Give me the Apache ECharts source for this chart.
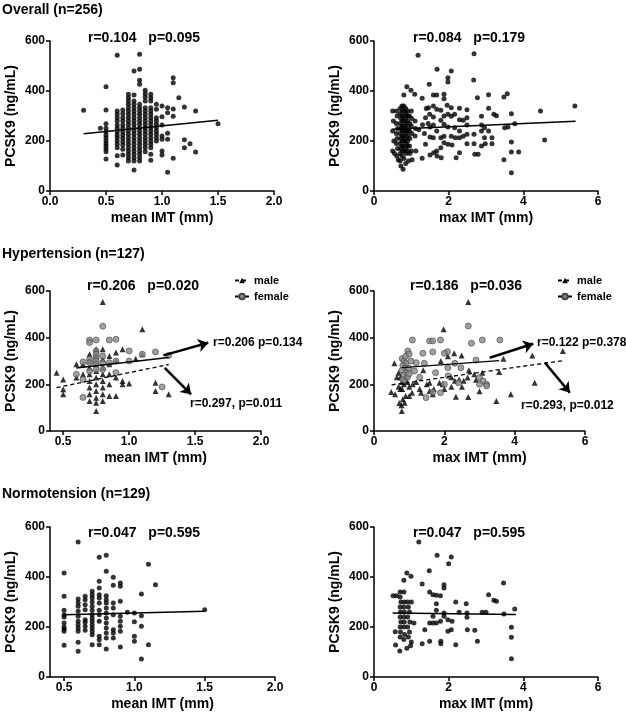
<!DOCTYPE html>
<html><head><meta charset="utf-8">
<script src="https://cdn.jsdelivr.net/npm/echarts@6/dist/echarts.min.js"></script>
<style>html,body{margin:0;padding:0;background:#fff}#c{width:626px;height:721px}</style>
</head><body><div id="c"></div><script>
// ---------- data ----------
// mean IMT (mm) columns : [x, [PCSK9 values]]
const overallMeanCols = [
 [0.30,[323]],
 [0.45,[251]],
 [0.50,[417,324,269,251,237,224,213,200,189,179,168,157,128]],
 [0.60,[543,320,307,293,280,264,251,237,224,213,200,187,173,141,104]],
 [0.65,[324,309,293,280,264,251,237,224,211,197,184,167,144]],
 [0.70,[387,373,360,347,333,320,307,293,280,267,253,240,227,213,200,187,173,160,147,133,120]],
 [0.75,[480,384,360,347,333,320,307,293,280,267,253,240,227,213,200,187,173,160,147,133,120,84]],
 [0.80,[547,487,443,427,347,333,320,307,293,280,267,253,240,227,213,200,187,173,160,147,133,120]],
 [0.85,[403,389,376,360,333,320,307,293,280,267,253,240,227,213,200,187,173,157]],
 [0.90,[387,373,360,333,320,307,293,280,267,253,240,227,213,200,187,173,147,123]],
 [0.95,[347,327,293,280,267,253,240,227,213,200]],
 [1.00,[340,297,264,220,207,160,144]],
 [1.05,[333,313,231,207,75]],
 [1.10,[453,433,328,299,131]],
 [1.15,[373]],
 [1.20,[336,205,173]],
 [1.25,[189]],
 [1.30,[320,156]],
 [1.50,[269]]
];
const htMeanFemaleCols = [
 [0.60,[243]],
 [0.65,[296,221,144]],
 [0.70,[390,379,307,293,257]],
 [0.75,[390,343,329,314,300,286,264]],
 [0.80,[449,321,293,264]],
 [0.85,[390,293]],
 [0.90,[393,300,250]],
 [1.00,[343,300]],
 [1.10,[329]],
 [1.20,[339]],
 [1.25,[189]],
 [1.30,[324]]
];
const htMeanMaleCols = [
 [0.45,[250]],
 [0.50,[221,179,157]],
 [0.60,[286,229]],
 [0.65,[286,243]],
 [0.70,[329,300,271,243,214,186,157,129]],
 [0.75,[350,321,286,257,229,200,171,143,121,86]],
 [0.80,[553,350,307,271,243,214,186,157,129]],
 [0.85,[321,286,243,200,150]],
 [0.90,[336,300,229,150]],
 [0.95,[350,214,200]],
 [1.00,[204]],
 [1.05,[310]],
 [1.10,[436,329]],
 [1.20,[207,171]],
 [1.30,[157]]
];
const normoMeanCols = [
 [0.50,[416,323,267,249,240,216,200,192,183,127]],
 [0.60,[540,312,297,283,263,243,223,209,196,183,139,103]],
 [0.65,[323,309,289,269,229,219,203,187]],
 [0.70,[343,329,316,300,283,267,249,236,223,209,196,183,169,129]],
 [0.75,[479,383,356,329,316,296,267,249,223,163,149,129]],
 [0.80,[487,423,325,309,296,276,256,236,216,196,176,156,112]],
 [0.85,[399,367,296,276,249,189,176,156]],
 [0.90,[376,363,303,243,223,203,183,120]],
 [0.95,[259]],
 [1.00,[256,221,163,143]],
 [1.05,[332,245,203,72]],
 [1.10,[451,129]],
 [1.15,[369]],
 [1.50,[269]]
];
// max IMT (mm) points : [x, PCSK9]
const overallMaxPts = [
 [0.50,320],[0.52,280],[0.50,240],[0.53,200],[0.50,160],[0.55,150],
 [0.60,320],[0.62,300],[0.60,270],[0.63,250],[0.60,230],[0.62,210],[0.60,190],[0.63,170],[0.61,140],[0.65,125],
 [0.70,330],[0.70,310],[0.72,290],[0.70,270],[0.71,250],[0.70,230],[0.72,210],[0.70,190],[0.71,170],[0.70,150],[0.70,120],[0.72,100],
 [0.75,340],[0.76,320],[0.75,300],[0.76,280],[0.75,260],[0.76,240],[0.75,220],[0.76,200],[0.75,180],[0.76,160],[0.75,140],[0.78,87],
 [0.80,384],[0.80,340],[0.81,320],[0.80,300],[0.81,280],[0.80,260],[0.81,240],[0.80,220],[0.81,200],[0.80,180],[0.81,160],[0.80,130],
 [0.85,330],[0.86,310],[0.85,290],[0.86,270],[0.85,250],[0.86,230],[0.85,210],[0.86,190],[0.85,170],[0.86,150],[0.85,110],
 [0.88,417],[0.90,320],[0.91,300],[0.90,280],[0.91,260],[0.90,240],[0.91,220],[0.90,200],[0.91,180],[0.90,160],[0.92,120],
 [0.95,300],[0.96,270],[0.95,240],[0.96,210],[0.95,180],[0.96,150],
 [0.99,403],[1.00,320],[1.01,290],[1.00,260],[1.01,230],[1.00,160],[1.02,125],
 [1.09,387],[1.10,280],[1.11,250],[1.10,220],[1.12,160],
 [1.18,543],[1.20,245],[1.29,371],[1.29,131],[1.30,265],[1.35,230],[1.38,293],[1.38,187],[1.40,330],[1.45,270],
 [1.46,333],[1.48,427],[1.50,144],[1.49,307],[1.50,256],[1.50,216],
 [1.59,384],[1.59,340],[1.59,296],[1.59,264],[1.59,213],[1.60,153],
 [1.69,487],[1.68,384],[1.68,327],[1.68,240],[1.68,160],[1.69,140],
 [1.79,323],[1.79,283],[1.79,213],[1.79,173],[1.80,133],
 [1.875,387],[1.875,369],[1.875,300],[1.875,267],[1.875,219],[1.875,193],
 [1.96,343],[1.98,453],[1.98,436],[1.98,307],[1.98,256],[1.98,187],
 [2.07,480],[2.07,333],[2.07,299],[2.07,219],[2.09,184],
 [2.16,307],[2.16,253],[2.18,213],[2.20,133],
 [2.29,331],[2.29,285],[2.29,240],[2.29,213],[2.29,153],
 [2.39,283],[2.39,219],
 [2.49,325],[2.49,293],[2.49,264],[2.49,227],[2.49,189],
 [2.67,444],[2.68,549],[2.68,227],[2.68,189],[2.70,147],
 [2.77,373],[2.79,147],
 [2.88,299],[2.88,264],[2.88,240],[2.88,180],
 [2.96,253],[2.96,213],[2.98,189],
 [3.07,385],[3.07,331],[3.07,240],
 [3.16,213],[3.16,189],[3.21,307],[3.28,301],
 [3.48,376],[3.48,125],[3.50,253],[3.57,389],[3.59,256],
 [3.68,309],[3.68,196],[3.68,156],[3.68,73],
 [3.77,269],[3.875,156],[4.46,320],[4.57,204],[5.38,340]
];
const htMaxFemalePts = [
 [2.68,450],[1.09,390],[1.58,386],[1.67,386],[1.89,390],[2.77,376],[3.08,390],[3.58,390],
 [0.96,343],[1.39,333],[1.67,339],[2.09,340],[2.00,333],
 [0.80,310],[0.85,300],[0.90,290],[0.82,280],[0.88,270],[0.80,260],[0.92,250],[0.85,240],[0.95,230],[0.82,220],
 [0.90,320],[1.00,330],[1.05,300],[0.98,270],[1.00,245],
 [1.20,293],[1.43,290],[2.90,304],[2.47,271],[2.11,236],[3.00,229],[3.10,214],[3.20,200],[3.20,193],[3.00,200],
 [1.48,143],[1.89,164],[1.67,166],[2.40,207],[1.15,257],[2.10,271],[1.30,230],[1.75,250],[2.30,290],[2.00,200]
];
const htMaxMalePts = [
 [2.68,553],[1.98,436],[0.58,290],[2.28,333],[2.49,324],[2.10,320],[3.68,310],[4.50,324],[5.37,343],
 [4.57,207],[3.89,157],[3.48,129],[2.68,146],[2.33,147],[0.79,86],[0.49,167],[0.60,157],[0.82,136],
 [0.87,121],[1.08,164],[1.58,171],[1.67,157],[1.86,207],[1.95,200],[2.42,221],[2.55,215],[2.66,229],
 [2.85,243],[3.08,250],[3.56,253],[1.58,207],[1.34,164],[1.30,180],
 [0.70,250],[0.75,230],[0.80,210],[0.85,200],[0.70,190],[0.75,180],[0.90,230],[0.95,210],[1.00,190],
 [0.65,230],[0.80,180],[0.90,150],[1.00,150],[0.72,120],[0.78,110],
 [1.50,200],[1.70,180],[2.00,180],[2.20,190],[2.30,215],[1.40,260],[1.20,210],[1.10,200],[2.50,190],
 [2.90,220],[2.70,260],[3.00,170],[1.90,300],[2.20,230]
];
const normoMaxPts = [
 [1.20,540],[1.69,487],[2.07,480],[2.00,453],[1.48,425],[0.88,416],[0.99,403],[0.80,387],[1.29,372],
 [3.47,376],[1.875,369],[1.875,356],[3.07,329],[3.21,307],[3.28,303],[2.19,300],[2.47,293],[3.77,272],
 [3.48,252],[2.90,259],[3.00,259],[2.49,256],[2.49,239],[2.28,259],[2.50,189],[2.70,187],[2.77,143],
 [3.68,199],[3.68,159],[3.68,73],[2.19,129],[1.79,143],[1.79,133],[1.29,133],[1.49,143],[1.36,189],
 [0.58,128],[0.69,104],[0.88,115],[0.98,125],[0.57,181],[0.51,325],[0.60,325],
 [0.70,340],[0.70,320],[0.72,300],[0.70,280],[0.71,260],[0.70,240],[0.72,220],[0.70,200],[0.71,180],[0.70,160],
 [0.80,340],[0.81,300],[0.80,280],[0.81,260],[0.80,240],[0.81,220],[0.80,200],[0.82,170],[0.80,150],
 [0.90,300],[0.92,280],[0.95,260],[0.90,240],[0.96,220],[0.90,200],[0.95,180],[0.92,160],[1.00,140],[1.00,300],
 [1.07,216],[1.58,329],[1.49,340],[1.67,327],[1.78,325],[1.67,293],[1.67,267],[1.58,243],[1.58,216],
 [1.49,216],[1.67,216],[1.78,223],[1.98,229],[1.98,183],[2.07,189],[2.09,223],[1.875,256],[1.875,243]
];
// regression lines (end points)
const overallMeanFit = [[0.30,229],[1.50,283]];
const overallMaxFit  = [[0.50,247],[5.40,279]];
const htMeanFemaleFit = [[0.60,270],[1.30,315]];
const htMeanMaleFit   = [[0.45,186],[1.30,285]];
const htMaxFemaleFit  = [[0.80,272],[3.56,302]];
const htMaxMaleFit    = [[0.50,198],[5.40,302]];
const normoMeanFit = [[0.50,249],[1.50,263]];
const normoMaxFit  = [[0.50,256],[3.80,250]];
// annotation arrows (data coords)
const htMeanArrows = [[[1.26,324],[1.60,378]],[[1.27,271],[1.47,157]]];
const htMaxArrows  = [[[3.29,314],[4.53,374]],[[4.86,293],[5.57,164]]];
// texts
const sectionTitles = ['Overall (n=256)','Hypertension (n=127)','Normotension (n=129)'];
const statTexts = ['r=0.104   p=0.095','r=0.084   p=0.179','r=0.206   p=0.020','r=0.186   p=0.036','r=0.047   p=0.595','r=0.047   p=0.595'];
const noteTexts = ['r=0.206 p=0.134','r=0.297, p=0.011','r=0.122 p=0.378','r=0.293, p=0.012'];
const meanTicks = [0.5,1.0,1.5,2.0];

// ---------- chart ----------
const FONT = '"Liberation Sans", Arial, Helvetica, sans-serif';
const flat = cols => cols.flatMap(c => c[1].map(v => [c[0], v]));
const chart = echarts.init(document.getElementById('c'), null, {renderer:'canvas'});

const grids = [
 {left:50, top:41, width:224, height:150},
 {left:374, top:41, width:224, height:150},
 {left:50, top:291, width:211, height:140},
 {left:374, top:291, width:211, height:140},
 {left:50, top:527, width:225, height:150},
 {left:374, top:527, width:224, height:150}
];
const axLine = {onZero:false, lineStyle:{color:'#000', width:1.5}};
const axTick = () => ({show:true, length:4, lineStyle:{color:'#000', width:1.5}});
const lab = (fmt) => ({fontFamily:FONT, fontWeight:'bold', fontSize:12, color:'#000', margin:5, formatter:fmt});
const nameStyle = {fontFamily:FONT, fontWeight:'bold', fontSize:14, color:'#000'};

function xAx(gi, min, max, interval, name, fmt, custom) {
  const a = {type:'value', gridIndex:gi, min, max, name, nameLocation:'middle', nameGap:20,
    nameTextStyle:nameStyle, axisLine:axLine, axisTick:axTick(), axisLabel:lab(fmt), splitLine:{show:false}};
  if (custom) { a.axisTick.customValues = custom; a.axisLabel.customValues = custom; }
  else a.interval = interval;
  return a;
}
function yAx(gi) {
  return {type:'value', gridIndex:gi, min:0, max:600, interval:200, name:'PCSK9 (ng/mL)', nameLocation:'middle',
    nameGap:32, nameTextStyle:nameStyle, axisLine:axLine, axisTick:axTick(), axisLabel:lab(v => String(v)),
    splitLine:{show:false}};
}
const f1 = v => v.toFixed(1), f0 = v => String(v);

function dots(gi, data) {
  return {type:'scatter', name:'pts'+gi, xAxisIndex:gi, yAxisIndex:gi, data, symbol:'circle', symbolSize:5,
    itemStyle:{color:'#000'}, silent:true, z:3};
}
function tri(gi, data) {
  return {type:'scatter', name:'male pts'+gi, xAxisIndex:gi, yAxisIndex:gi, data, symbol:'triangle', symbolSize:6,
    itemStyle:{color:'#000'}, silent:true, z:3};
}
function circ(gi, data, arrows) {
  return {type:'scatter', name:'female pts'+gi, xAxisIndex:gi, yAxisIndex:gi, data, symbol:'circle', symbolSize:6,
    itemStyle:{color:'#8a8a8a', borderColor:'#444', borderWidth:0.8}, silent:true, z:4,
    markLine:{silent:true, animation:false, symbol:['none','arrow'], symbolSize:10, label:{show:false},
      lineStyle:{color:'#000', width:2.5, type:'solid'}, emphasis:{disabled:true},
      data: arrows.map(a => [{coord:a[0]},{coord:a[1]}])}};
}
function fit(gi, data, name, dashed, sym) {
  return {type:'line', name: name || ('fit'+gi), xAxisIndex:gi, yAxisIndex:gi, data, showSymbol:false,
    symbol: sym || 'none', symbolSize:6,
    itemStyle: sym === 'circle' ? {color:'#8a8a8a', borderColor:'#444', borderWidth:0.8} : {color:'#000'},
    lineStyle:{color:'#000', width:1.3, type: dashed ? [4,3] : 'solid'}, silent:true, z:5};
}

const txt = (text, x, y, size) => ({type:'text', x, y, silent:true,
  style:{text, fontFamily:FONT, fontWeight:'bold', fontSize:size, fill:'#000', textAlign:'left', textVerticalAlign:'middle', align:'left', verticalAlign:'middle'}});

const option = {
  animation:false,
  backgroundColor:'#fff',
  grid: grids,
  xAxis: [
    xAx(0, 0, 2, 0.5, 'mean IMT (mm)', f1),
    xAx(1, 0, 6, 2, 'max IMT (mm)', f0),
    xAx(2, 0.4, 2, null, 'mean IMT (mm)', f1, meanTicks),
    xAx(3, 0, 6, 2, 'max IMT (mm)', f0),
    xAx(4, 0.4, 2, null, 'mean IMT (mm)', f1, meanTicks),
    xAx(5, 0, 6, 2, 'max IMT (mm)', f0)
  ],
  yAxis: [0,1,2,3,4,5].map(yAx),
  legend: [
    {data:['male','female'], orient:'vertical', left:229, top:270, itemWidth:14, itemHeight:7, itemGap:5,
     selectedMode:false, textStyle:{fontFamily:FONT, fontWeight:'bold', fontSize:11, color:'#000'}},
    {data:['male','female'], orient:'vertical', left:552, top:270, itemWidth:14, itemHeight:7, itemGap:5,
     selectedMode:false, textStyle:{fontFamily:FONT, fontWeight:'bold', fontSize:11, color:'#000'}}
  ],
  series: [
    dots(0, flat(overallMeanCols)), fit(0, overallMeanFit),
    dots(1, overallMaxPts), fit(1, overallMaxFit),
    tri(2, flat(htMeanMaleCols)), circ(2, flat(htMeanFemaleCols), htMeanArrows),
    fit(2, htMeanMaleFit, 'male', true, 'triangle'), fit(2, htMeanFemaleFit, 'female', false, 'circle'),
    tri(3, htMaxMalePts), circ(3, htMaxFemalePts, htMaxArrows),
    fit(3, htMaxMaleFit, 'male', true, 'triangle'), fit(3, htMaxFemaleFit, 'female', false, 'circle'),
    dots(4, flat(normoMeanCols)), fit(4, normoMeanFit),
    dots(5, normoMaxPts), fit(5, normoMaxFit)
  ],
  graphic: [
    txt(sectionTitles[0], 2, 10, 14),
    txt(sectionTitles[1], 2, 254, 14),
    txt(sectionTitles[2], 2, 494, 14),
    txt(statTexts[0], 88, 38, 14),
    txt(statTexts[1], 413, 38, 14),
    txt(statTexts[2], 87, 286, 14),
    txt(statTexts[3], 410, 286, 14),
    txt(statTexts[4], 88, 533, 14),
    txt(statTexts[5], 413, 533, 14),
    txt(noteTexts[0], 213, 343, 12),
    txt(noteTexts[1], 190, 404, 12),
    txt(noteTexts[2], 537, 343, 12),
    txt(noteTexts[3], 521, 406, 12)
  ]
};
chart.setOption(option);
</script></body></html>
